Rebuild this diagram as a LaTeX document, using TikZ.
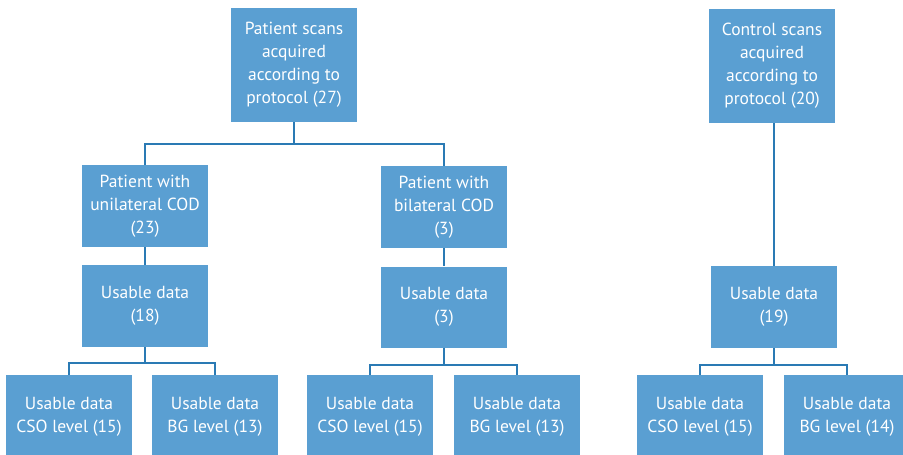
\documentclass[tikz,border=0pt]{standalone}
\usepackage{fontspec}
\setmainfont{PT Sans}
\definecolor{boxfill}{HTML}{5A9FD2}
\definecolor{linkcol}{HTML}{2A7AB4}
\begin{document}
\begin{tikzpicture}[x=1pt,y=-1pt,
  stage/.style={fill=boxfill, draw=none, text=white, align=center,
    minimum width=126pt, inner sep=0pt,
    font=\fontsize{17.5}{23}\selectfont},
  link/.style={draw=linkcol, line width=1.5pt}]
\useasboundingbox (0,0) rectangle (903,455);
\clip (0,0) rectangle (903,455);

% patient branch
\node[stage, minimum height=114pt] (p0) at (294,65) {Patient scans\\acquired\\according to\\protocol (27)};
\node[stage, minimum height=82pt] (u1) at (145,206) {Patient with\\unilateral COD\\(23)};
\node[stage, minimum height=82pt] (b1) at (444,207) {Patient with\\bilateral COD\\(3)};
\node[stage, minimum height=82pt] (u2) at (145,306) {Usable data\\(18)};
\node[stage, minimum height=81pt] (b2) at (444,307) {Usable data\\(3)};
\node[stage, minimum height=84pt] (u3a) at (69,417) {Usable data\\CSO level (15)};
\node[stage, minimum height=84pt] (u3b) at (215,417) {Usable data\\BG level (13)};
\node[stage, minimum height=84pt] (b3a) at (370,417) {Usable data\\CSO level (15)};
\node[stage, minimum height=84pt] (b3b) at (517,417) {Usable data\\BG level (13)};

% control branch
\node[stage, minimum height=114pt] (c0) at (772,66) {Control scans\\acquired\\according to\\protocol (20)};
\node[stage, minimum height=82pt] (c2) at (774,307) {Usable data\\(19)};
\node[stage, minimum height=84pt] (c3a) at (700,417) {Usable data\\CSO level (15)};
\node[stage, minimum height=84pt] (c3b) at (847,417) {Usable data\\BG level (14)};

% junction points
\coordinate (j1) at (294,144);
\coordinate (j2) at (145,363);
\coordinate (j3) at (444,365);
\coordinate (j4) at (774,365);

% connectors
\draw[link] (p0.south) -- (j1);
\draw[link] (u1.north) |- (j1) -| (b1.north);
\draw[link] (u1.south) -- (u2.north);
\draw[link] (b1.south) -- (b2.north);
\draw[link] (u2.south) -- (j2);
\draw[link] (u3a.north) |- (j2) -| (u3b.north);
\draw[link] (b2.south) -- (j3);
\draw[link] (b3a.north) |- (j3) -| (b3b.north);
\draw[link] (c0.south -| c2.north) -- (c2.north);
\draw[link] (c2.south) -- (j4);
\draw[link] (c3a.north) |- (j4) -| (c3b.north);
\end{tikzpicture}
\end{document}
